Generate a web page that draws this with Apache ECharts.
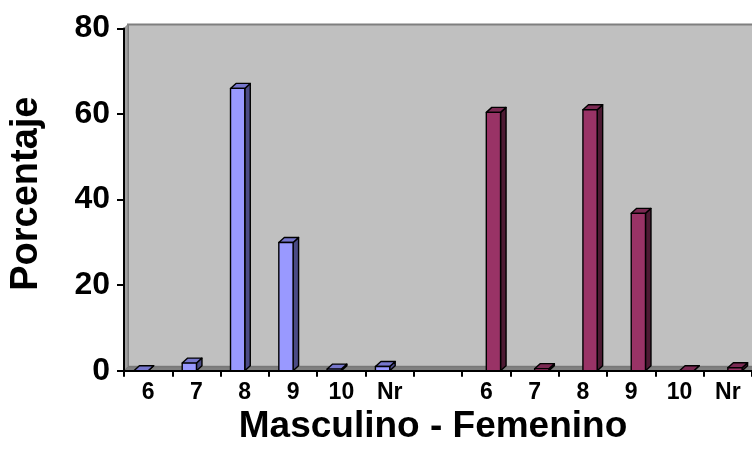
<!DOCTYPE html>
<html><head><meta charset="utf-8">
<script src="https://cdn.jsdelivr.net/npm/echarts@6/dist/echarts.min.js"></script>
<style>html,body{margin:0;padding:0;background:#fff}#c{width:752px;height:469px}</style>
</head><body><div id="c"></div>
<script>
const categories = ['6','7','8','9','10','Nr','','6','7','8','9','10','Nr'];
const masculino = [0, 1.8, 66, 30, 0.4, 1.0, null, null, null, null, null, null, null];
const femenino = [null, null, null, null, null, null, null, 60.4, 0.5, 61, 36.8, 0, 0.7];
const yTicks = [0, 20, 40, 60, 80];
const yTitle = 'Porcentaje';
const xTitle = 'Masculino - Femenino';

const FONT = '"Liberation Sans", Arial, sans-serif';
const chart = echarts.init(document.getElementById('c'), null, {renderer: 'canvas'});

function toPairs(arr) {
  return arr.map((v, i) => [i, v]).filter(d => d[1] != null);
}

function bar3d(side, colors) {
  return function (params, api) {
    const i = api.value(0), v = api.value(1);
    const base = api.coord([i, 0]);
    const top = api.coord([i, v]);
    const cw = api.size([1, 0])[0];
    const w = cw * 0.295;
    const x0 = side < 0 ? base[0] - w : base[0];
    const x1 = x0 + w;
    const y0 = base[1], y1 = top[1];
    const dx = 5.5, dy = 5;
    const ls = {stroke: '#000', lineWidth: 1.4, lineJoin: 'round'};
    return {type: 'group', children: [
      {type: 'polygon', shape: {points: [[x1, y0], [x1 + dx, y0 - dy], [x1 + dx, y1 - dy], [x1, y1]]},
        style: Object.assign({fill: colors.side}, ls)},
      {type: 'polygon', shape: {points: [[x0, y1], [x0 + dx, y1 - dy], [x1 + dx, y1 - dy], [x1, y1]]},
        style: Object.assign({fill: colors.top}, ls)},
      {type: 'rect', shape: {x: x0, y: y1, width: w, height: y0 - y1},
        style: Object.assign({fill: colors.front}, ls)}
    ]};
  };
}

function wall(params, api) {
  const cs = params.coordSys;
  const gx = cs.x, gy = cs.y, gw = cs.width, gh = cs.height;
  const d = 4;
  return {type: 'group', children: [
    {type: 'rect', shape: {x: gx + d, y: gy - d, width: gw + 10, height: gh},
      style: {fill: '#C0C0C0', stroke: '#7F7F7F', lineWidth: 2}},
    {type: 'polygon', shape: {points: [[gx, gy], [gx + d, gy - d], [gx + d, gy + gh - d], [gx, gy + gh]]},
      style: {fill: '#A0A0A0', stroke: '#7F7F7F', lineWidth: 1}},
    {type: 'polygon', shape: {points: [[gx, gy + gh], [gx + d, gy + gh - d], [gx + gw + 20, gy + gh - d], [gx + gw + 20, gy + gh]]},
      style: {fill: '#808080', stroke: '#6a6a6a', lineWidth: 0.5}}
  ]};
}

const option = {
  animation: false,
  backgroundColor: '#fff',
  grid: {left: 123, top: 28.5, width: 633, height: 342.3, containLabel: false},
  xAxis: {
    type: 'category', data: categories, z: 10,
    name: xTitle, nameLocation: 'middle', nameGap: 34,
    nameTextStyle: {fontFamily: FONT, fontWeight: 'bold', fontSize: 37, color: '#000', padding: [0, 10, 0, 0]},
    axisLine: {show: true, lineStyle: {color: '#000', width: 2}},
    axisTick: {show: true, interval: 0, length: 6, lineStyle: {color: '#000', width: 2}},
    axisLabel: {interval: 0, margin: 10, fontFamily: FONT, fontWeight: 'bold', fontSize: 23, color: '#000'},
    splitLine: {show: false}
  },
  yAxis: {
    type: 'value', min: yTicks[0], max: yTicks[yTicks.length - 1], interval: 20, z: 10,
    name: yTitle, nameLocation: 'middle', nameGap: 78,
    nameTextStyle: {fontFamily: FONT, fontWeight: 'bold', fontSize: 38, color: '#000', padding: [0, 0, 0, 12]},
    axisLine: {show: true, lineStyle: {color: '#000', width: 2}},
    axisTick: {show: true, length: 7, lineStyle: {color: '#000', width: 2}},
    axisLabel: {margin: 14, fontFamily: FONT, fontWeight: 'bold', fontSize: 32, color: '#000'},
    splitLine: {show: false}
  },
  series: [
    {type: 'custom', z: 1, silent: true, renderItem: wall, data: [[0, 0]], clip: false},
    {type: 'custom', z: 5, renderItem: bar3d(-1, {front: '#9999FF', top: '#7676CC', side: '#4B4B85'}),
      data: toPairs(masculino), clip: false},
    {type: 'custom', z: 5, renderItem: bar3d(1, {front: '#993366', top: '#7A2952', side: '#4D1A33'}),
      data: toPairs(femenino), clip: false}
  ]
};
chart.setOption(option);
</script>
</body></html>
